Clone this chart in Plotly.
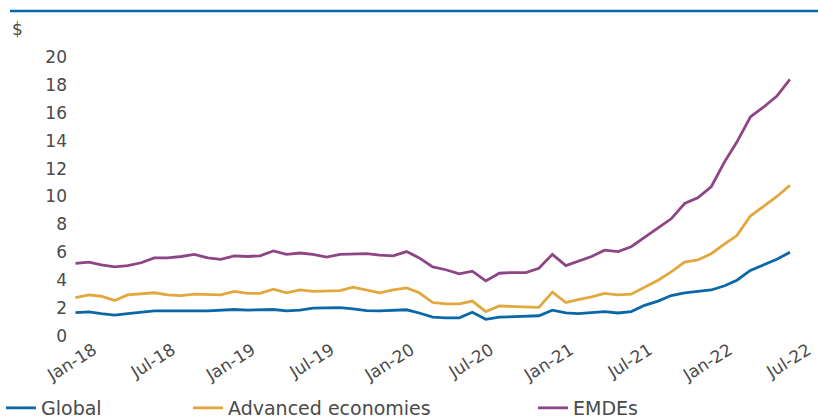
import pandas as pd
import plotly.graph_objects as go

dates = pd.date_range("2018-01-01", "2022-07-01", freq="MS")

global_vals = [1.67, 1.73, 1.60, 1.50, 1.60, 1.70, 1.80, 1.80, 1.78, 1.80, 1.80, 1.85,
               1.90, 1.86, 1.86, 1.90, 1.80, 1.85, 2.00, 2.03, 2.03, 1.95, 1.82, 1.80,
               1.85, 1.88, 1.65, 1.35, 1.30, 1.30, 1.70, 1.20, 1.35, 1.40, 1.40, 1.45,
               1.85, 1.65, 1.60, 1.65, 1.75, 1.65, 1.75, 2.20, 2.50, 2.90, 3.10, 3.20,
               3.30, 3.60, 4.00, 4.70, 5.10, 5.50, 6.00]

advanced_vals = [2.75, 2.95, 2.85, 2.55, 2.95, 3.00, 3.10, 2.95, 2.90, 3.00, 2.95, 2.95,
                 3.20, 3.05, 3.05, 3.35, 3.10, 3.30, 3.20, 3.20, 3.25, 3.50, 3.30, 3.10,
                 3.30, 3.45, 3.10, 2.40, 2.30, 2.30, 2.50, 1.75, 2.15, 2.10, 2.10, 2.05,
                 3.15, 2.40, 2.60, 2.80, 3.05, 2.95, 3.00, 3.50, 4.00, 4.60, 5.30, 5.45,
                 5.90, 6.60, 7.20, 8.60, 9.30, 10.00, 10.80]

emde_vals = [5.20, 5.30, 5.10, 4.95, 5.05, 5.25, 5.60, 5.60, 5.70, 5.85, 5.60, 5.50,
             5.75, 5.70, 5.75, 6.10, 5.85, 5.95, 5.85, 5.65, 5.85, 5.90, 5.90, 5.80,
             5.75, 6.05, 5.60, 4.95, 4.75, 4.45, 4.65, 3.95, 4.50, 4.55, 4.55, 4.85,
             5.85, 5.05, 5.35, 5.70, 6.15, 6.05, 6.40, 7.10, 7.75, 8.40, 9.50, 9.90,
             10.70, 12.50, 13.90, 15.70, 16.40, 17.20, 18.40]

tick_vals = ["2018-01-01", "2018-07-01", "2019-01-01", "2019-07-01", "2020-01-01",
             "2020-07-01", "2021-01-01", "2021-07-01", "2022-01-01", "2022-07-01"]
tick_text = ["Jan-18", "Jul-18", "Jan-19", "Jul-19", "Jan-20",
             "Jul-20", "Jan-21", "Jul-21", "Jan-22", "Jul-22"]

series = [
    ("Global", global_vals, "#0B68A8", "legend", 1),
    ("Advanced economies", advanced_vals, "#E2A83E", "legend2", 188),
    ("EMDEs", emde_vals, "#8E4585", "legend3", 533),
]

W, H = 818, 419
ML, MR, MT, MB = 72, 25, 57, 83

fig = go.Figure()
for name, vals, color, leg, _ in series:
    fig.add_trace(go.Scatter(x=dates, y=vals, mode="lines", name=name,
                             line=dict(color=color, width=2.8), legend=leg))

font_fam = "DejaVu Sans, Arial, sans-serif"
txt_col = "#4a4a4a"

legend_cfg = {}
for name, vals, color, leg, px in series:
    legend_cfg[leg] = dict(
        x=px / W, xref="container", xanchor="left",
        y=1 - 389 / H, yref="container", yanchor="top",
        orientation="h", bgcolor="rgba(0,0,0,0)",
        font=dict(family=font_fam, size=19, color=txt_col),
        itemwidth=30, tracegroupgap=0,
    )

pw = W - ML - MR
fig.update_layout(
    width=W, height=H,
    margin=dict(l=ML, r=MR, t=MT, b=MB, autoexpand=False),
    paper_bgcolor="white", plot_bgcolor="white",
    showlegend=True,
    **legend_cfg,
    xaxis=dict(
        range=["2017-12-24", "2022-07-08"], automargin=False,
        tickvals=tick_vals, ticktext=tick_text,
        tickangle=-32, showgrid=False, zeroline=False, showline=False,
        ticks="", ticklabelshift=18,
        tickfont=dict(family=font_fam, size=17, color=txt_col),
    ),
    yaxis=dict(
        range=[0, 20], dtick=2, tick0=0, automargin=False,
        showgrid=False, zeroline=False, showline=False, ticks="",
        ticklabelstandoff=4,
        tickfont=dict(family=font_fam, size=17, color=txt_col),
    ),
    shapes=[dict(type="line", xref="paper", yref="paper",
                 x0=(10 - ML) / pw, x1=(W - ML) / pw,
                 y0=1 + (MT - 11) / (H - MT - MB), y1=1 + (MT - 11) / (H - MT - MB),
                 line=dict(color="#0069AA", width=2.5))],
    annotations=[dict(text="$", xref="paper", yref="paper",
                      x=(10 - ML) / pw, y=1 + (MT - 29) / (H - MT - MB),
                      xanchor="left", yanchor="middle", showarrow=False,
                      font=dict(family=font_fam, size=17, color=txt_col))],
)

fig.write_html("out.html", config={"displayModeBar": False},
               post_script="document.body.style.margin='0';")
